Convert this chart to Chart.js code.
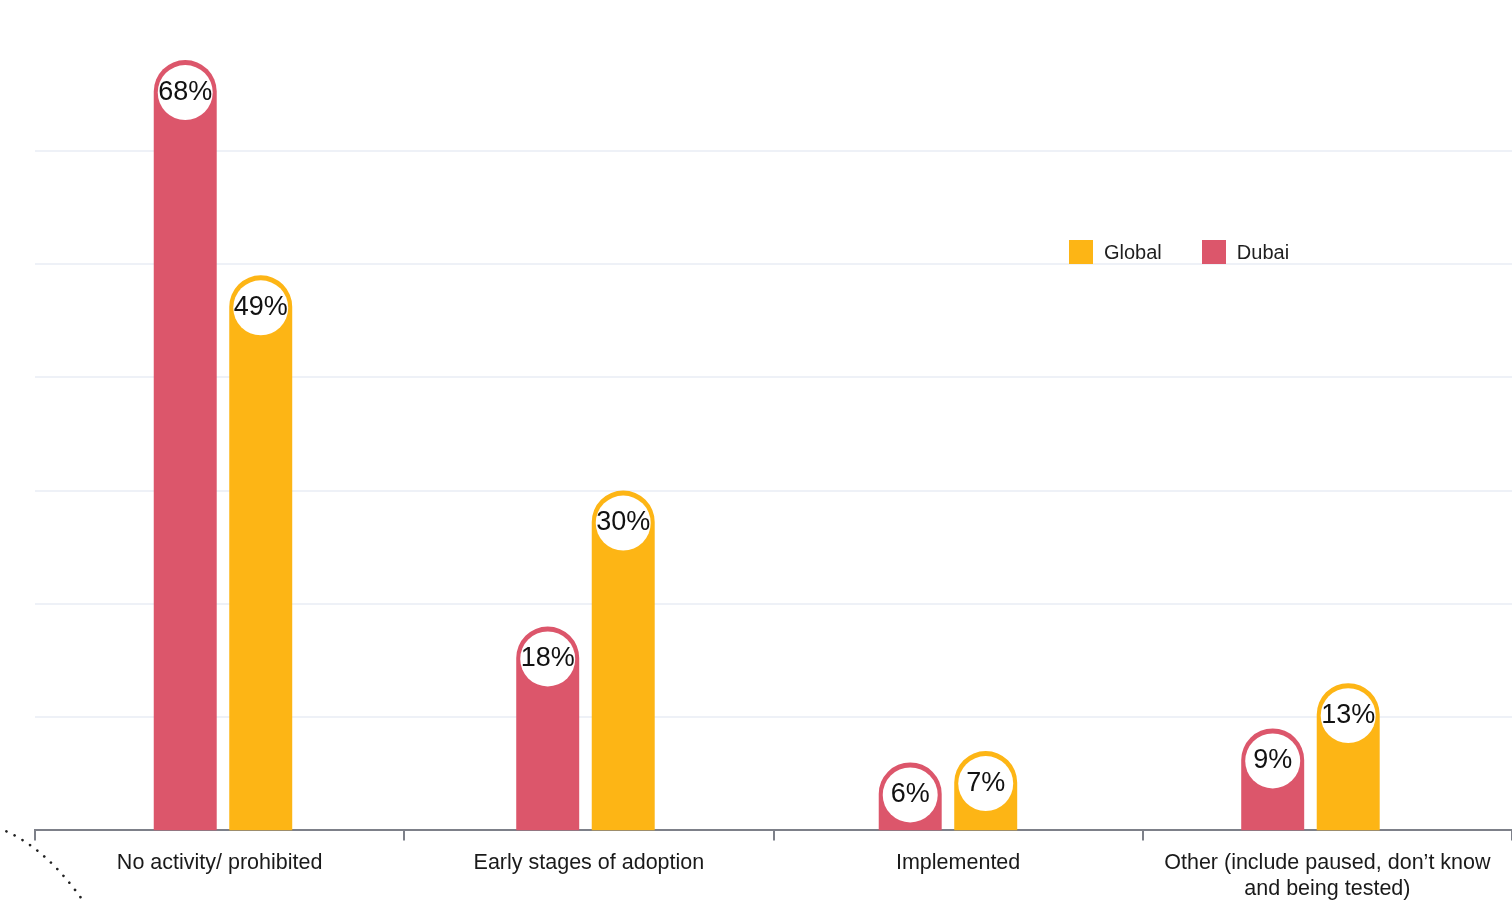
<!DOCTYPE html>
<html>
<head>
<meta charset="utf-8">
<script src="https://cdn.jsdelivr.net/npm/chart.js@4/dist/chart.umd.min.js"></script>
<style>
  html, body { margin: 0; padding: 0; background: #fff; }
  #wrap { position: relative; width: 1512px; height: 901px; overflow: hidden; }
  #legend { position: absolute; left: 1069px; top: 240px; display: flex; align-items: center;
    font-family: "Liberation Sans", Arial, sans-serif; font-size: 20px; color: #1f1f1f; }
  #legend .item { display: flex; align-items: center; margin-right: 40px; }
  #legend .sw { width: 24px; height: 24px; margin-right: 11px; }
</style>
</head>
<body>
<div id="wrap">
  <canvas id="chart" width="1512" height="912"></canvas>
  <div id="legend"></div>
</div>
<script>
  const categories = [
    "No activity/ prohibited",
    "Early stages of adoption",
    "Implemented",
    ["Other (include paused, don\u2019t know", "and being tested)"]
  ];
  const dubai = [68, 18, 6, 9];
  const globalVals = [49, 30, 7, 13];
  const gridValues = [10, 20, 30, 40, 50, 60];

  const RED = "#dc566b";
  const ORANGE = "#fdb515";
  const FONT = "'Liberation Sans', Arial, sans-serif";

  // legend (order as in the picture: Global first)
  const legendEl = document.getElementById("legend");
  [["Global", ORANGE], ["Dubai", RED]].forEach(function (it) {
    const d = document.createElement("div");
    d.className = "item";
    d.innerHTML = '<span class="sw" style="background:' + it[1] + '"></span><span>' + it[0] + "</span>";
    legendEl.appendChild(d);
  });

  // bars sit on their own hidden linear axis (groups are a bit narrower than the label slots)
  function toPoints(arr) {
    return arr.map(function (v, i) { return { x: i, y: v }; });
  }

  // white circle with the value at the top of each bar
  const bubbleLabels = {
    id: "bubbleLabels",
    afterDatasetsDraw(chart) {
      const ctx = chart.ctx;
      chart.data.datasets.forEach(function (ds, i) {
        chart.getDatasetMeta(i).data.forEach(function (bar, j) {
          const p = bar.getProps(["x", "y", "width"], true);
          const r = p.width / 2 - 4;
          const cy = p.y + 5 + r;
          ctx.save();
          ctx.beginPath();
          ctx.arc(p.x, cy, r, 0, Math.PI * 2);
          ctx.fillStyle = "#fff";
          ctx.fill();
          ctx.fillStyle = "#111";
          ctx.font = "27px " + FONT;
          ctx.textAlign = "center";
          ctx.textBaseline = "middle";
          ctx.fillText(ds.data[j].y + "%", p.x, cy);
          ctx.restore();
        });
      });
    }
  };

  // dotted decoration in the lower left corner
  const dottedCurve = {
    id: "dottedCurve",
    afterDraw(chart) {
      const ctx = chart.ctx;
      ctx.save();
      ctx.beginPath();
      ctx.moveTo(-2, 828);
      ctx.quadraticCurveTo(45, 845, 86, 905);
      ctx.setLineDash([0.1, 9]);
      ctx.lineCap = "round";
      ctx.lineWidth = 2.6;
      ctx.strokeStyle = "#222";
      ctx.stroke();
      ctx.restore();
    }
  };

  new Chart(document.getElementById("chart"), {
    type: "bar",
    data: {
      labels: categories,
      datasets: [
        { label: "Dubai", data: toPoints(dubai), xAxisID: "xb", backgroundColor: RED, borderRadius: 40, borderSkipped: "start" },
        { label: "Global", data: toPoints(globalVals), xAxisID: "xb", backgroundColor: ORANGE, borderRadius: 40, borderSkipped: "start" }
      ]
    },
    options: {
      responsive: false,
      animation: false,
      layout: { padding: { left: 35, right: 0, top: 0, bottom: 0 } },
      datasets: { bar: { categoryPercentage: 0.4166, barPercentage: 0.834 } },
      plugins: { legend: { display: false }, tooltip: { enabled: false } },
      scales: {
        x: {
          type: "category",
          min: 0,
          max: categories.length - 1,
          offset: true,
          grid: { offset: true, drawOnChartArea: false, drawTicks: true, tickLength: 10, color: "#7d8089", lineWidth: 2 },
          border: { color: "#7d8089", width: 2 },
          ticks: { color: "#1a1a1a", font: { family: FONT, size: 21.5, lineHeight: 1.2 }, padding: 10, maxRotation: 0, autoSkip: false }
        },
        xb: {
          type: "linear",
          display: false,
          offset: false,
          grid: { offset: false },
          min: -0.5186,
          max: 3.556,
          afterBuildTicks: function (axis) { axis.ticks = categories.map(function (c, i) { return { value: i }; }); }
        },
        y: {
          min: 0,
          max: 73.3,
          afterBuildTicks: function (axis) { axis.ticks = gridValues.map(function (v) { return { value: v }; }); },
          grid: { color: "#eef1f7", lineWidth: 2, drawTicks: false },
          border: { display: false },
          ticks: { display: false }
        }
      }
    },
    plugins: [bubbleLabels, dottedCurve]
  });
</script>
</body>
</html>
